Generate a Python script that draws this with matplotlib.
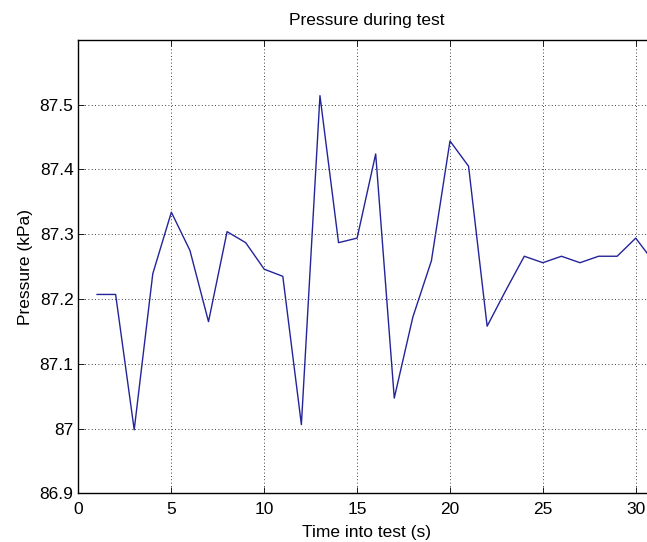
import matplotlib
matplotlib.use('Agg')
import matplotlib.pyplot as plt

plt.rcParams['font.family'] = ['Liberation Sans', 'DejaVu Sans']

# time into test (s) and measured pressure (kPa)
time_s = list(range(1, 32))
pressure_kpa = [87.207, 87.207, 86.998, 87.239, 87.334, 87.275, 87.165, 87.304,
                87.287, 87.246, 87.235, 87.006, 87.514, 87.287, 87.294, 87.424,
                87.047, 87.172, 87.259, 87.444, 87.405, 87.158, 87.213, 87.266,
                87.256, 87.266, 87.256, 87.266, 87.266, 87.294, 87.256]

x_ticks = [0, 5, 10, 15, 20, 25, 30]
y_ticks = [86.9, 87.0, 87.1, 87.2, 87.3, 87.4, 87.5]
y_labels = ['86.9', '87', '87.1', '87.2', '87.3', '87.4', '87.5']

fig = plt.figure(figsize=(6.47, 5.42), dpi=100)
fig.patch.set_facecolor('white')
# axes runs slightly past the right edge (the source image is cropped there)
ax = fig.add_axes([0.1213, 0.0899, 0.890, 0.8364])

ax.plot(time_s, pressure_kpa, color='#24249a', lw=1.0)

ax.set_xlim(0, 31)
ax.set_ylim(86.9, 87.6)
ax.set_xticks(x_ticks)
ax.set_yticks(y_ticks)
ax.set_yticklabels(y_labels)
ax.grid(True, color='black', linestyle=(0, (1, 3)), linewidth=0.6)
ax.tick_params(direction='in', length=4, width=0.6, labelsize=12.5,
               top=True, right=True)
ax.tick_params(axis='x', pad=6.5)
ax.tick_params(axis='y', pad=3.5)
for s in ax.spines.values():
    s.set_linewidth(1.0)

ax.set_title('Pressure during test', fontsize=12.5, pad=10.5)
ax.set_xlabel('Time into test (s)', fontsize=12.5, labelpad=5.5)
ax.set_ylabel('Pressure (kPa)', fontsize=12.5, labelpad=5)

plt.savefig('out.png', dpi=100, facecolor='white')
plt.close()
